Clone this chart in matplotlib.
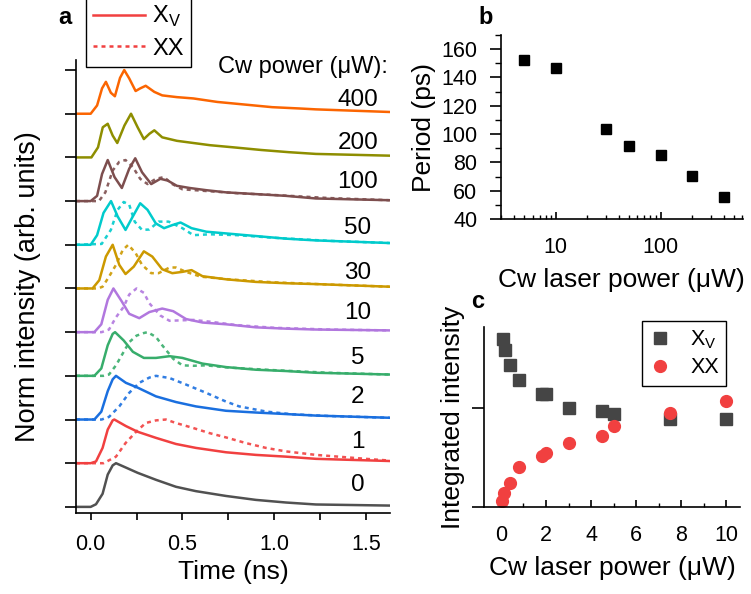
import matplotlib
matplotlib.use('Agg')
import matplotlib.pyplot as plt
from matplotlib.lines import Line2D
from matplotlib.ticker import MultipleLocator, FixedLocator, LogLocator, NullFormatter

plt.rcParams['font.family'] = ['Liberation Sans', 'DejaVu Sans']
plt.rcParams['mathtext.fontset'] = 'custom'
plt.rcParams['mathtext.rm'] = 'Liberation Sans'
plt.rcParams['axes.linewidth'] = 1.2
plt.rcParams['lines.solid_joinstyle'] = 'round'
plt.rcParams['lines.dash_joinstyle'] = 'round'

# ---- panel a: normalised transients, stacked by cw power ----
powers = [0, 1, 2, 5, 10, 30, 50, 100, 200, 400]
colors = ['#515151', '#F14040', '#1A6FDF', '#37AD6B', '#B177DE',
          '#CC9900', '#00CBCC', '#7D4E4E', '#8E8E00', '#FB6501']

xv_t = {
    0: [-0.08, 0.0, 0.029, 0.065, 0.093, 0.12, 0.138, 0.192, 0.256, 0.356, 0.465, 0.574, 0.738, 0.901, 1.065, 1.228, 1.63],
    1: [-0.08, 0.0, 0.029, 0.065, 0.093, 0.12, 0.129, 0.192, 0.256, 0.356, 0.465, 0.574, 0.738, 0.901, 1.065, 1.228, 1.63],
    2: [-0.08, 0.02, 0.058, 0.093, 0.12, 0.138, 0.192, 0.256, 0.356, 0.465, 0.574, 0.738, 0.901, 1.065, 1.228, 1.63],
    5: [-0.08, 0.02, 0.058, 0.093, 0.12, 0.133, 0.18, 0.23, 0.29, 0.356, 0.43, 0.50, 0.61, 0.738, 0.901, 1.065, 1.228, 1.63],
    10: [-0.08, 0.02, 0.058, 0.093, 0.124, 0.17, 0.21, 0.265, 0.32, 0.39, 0.45, 0.52, 0.61, 0.738, 0.901, 1.065, 1.228, 1.63],
    30: [-0.08, 0.01, 0.047, 0.083, 0.12, 0.156, 0.19, 0.235, 0.29, 0.336, 0.39, 0.445, 0.50, 0.55, 0.61, 0.738, 0.901, 1.065, 1.228, 1.63],
    50: [-0.08, 0.0, 0.035, 0.07, 0.111, 0.147, 0.19, 0.23, 0.27, 0.31, 0.355, 0.40, 0.445, 0.49, 0.55, 0.63, 0.738, 0.901, 1.065, 1.228, 1.63],
    100: [-0.08, 0.0, 0.035, 0.062, 0.093, 0.13, 0.17, 0.21, 0.243, 0.28, 0.33, 0.38, 0.42, 0.47, 0.54, 0.63, 0.738, 0.901, 1.065, 1.228, 1.63],
    200: [-0.08, 0.004, 0.04, 0.066, 0.093, 0.12, 0.145, 0.184, 0.22, 0.256, 0.29, 0.32, 0.347, 0.39, 0.47, 0.56, 0.65, 0.78, 0.93, 1.08, 1.228, 1.63],
    400: [-0.08, 0.0, 0.035, 0.062, 0.083, 0.11, 0.132, 0.16, 0.183, 0.21, 0.245, 0.27, 0.30, 0.347, 0.39, 0.47, 0.56, 0.69, 0.84, 0.99, 1.14, 1.228, 1.63],
}
xv_i = {
    0: [0, 0, 0.06, 0.30, 0.74, 0.95, 1.0, 0.90, 0.78, 0.62, 0.46, 0.36, 0.25, 0.16, 0.10, 0.055, 0.03],
    1: [0, 0, 0.04, 0.35, 0.77, 0.98, 1.0, 0.85, 0.72, 0.58, 0.44, 0.35, 0.25, 0.19, 0.15, 0.10, 0.05],
    2: [0, 0, 0.18, 0.65, 0.92, 1.0, 0.84, 0.73, 0.53, 0.40, 0.30, 0.20, 0.16, 0.125, 0.09, 0.04],
    5: [0, 0, 0.17, 0.70, 0.96, 1.0, 0.81, 0.55, 0.41, 0.41, 0.45, 0.41, 0.28, 0.20, 0.14, 0.11, 0.07, 0.03],
    10: [0, 0, 0.18, 0.74, 1.0, 0.70, 0.42, 0.32, 0.46, 0.54, 0.48, 0.30, 0.22, 0.18, 0.11, 0.08, 0.06, 0.04],
    30: [0, 0, 0.19, 0.73, 1.0, 0.54, 0.33, 0.50, 0.85, 0.73, 0.44, 0.35, 0.38, 0.42, 0.28, 0.21, 0.15, 0.12, 0.10, 0.04],
    50: [0, 0, 0.22, 0.73, 1.0, 0.65, 0.34, 0.65, 0.95, 0.80, 0.49, 0.38, 0.45, 0.51, 0.38, 0.30, 0.26, 0.20, 0.14, 0.10, 0.04],
    100: [0, 0, 0.12, 0.62, 0.94, 0.55, 0.30, 0.74, 0.98, 0.66, 0.39, 0.51, 0.47, 0.35, 0.30, 0.25, 0.20, 0.16, 0.12, 0.06, 0.02],
    200: [0, 0, 0.23, 0.69, 0.77, 0.50, 0.33, 0.73, 1.0, 0.69, 0.42, 0.54, 0.62, 0.46, 0.38, 0.33, 0.28, 0.23, 0.17, 0.12, 0.08, 0.04],
    400: [0, 0, 0.19, 0.58, 0.73, 0.48, 0.40, 0.82, 1.0, 0.81, 0.52, 0.58, 0.64, 0.50, 0.42, 0.38, 0.35, 0.27, 0.21, 0.15, 0.12, 0.10, 0.04],
}
xx_t = {
    1: [-0.08, 0.07, 0.138, 0.19, 0.25, 0.30, 0.356, 0.41, 0.465, 0.556, 0.647, 0.738, 0.847, 0.956, 1.065, 1.228, 1.32, 1.5, 1.63],
    2: [-0.08, 0.06, 0.10, 0.156, 0.21, 0.265, 0.32, 0.356, 0.43, 0.52, 0.63, 0.738, 0.81, 0.96, 1.1, 1.3, 1.63],
    5: [-0.08, 0.07, 0.10, 0.138, 0.18, 0.21, 0.25, 0.29, 0.31, 0.356, 0.39, 0.45, 0.50, 0.56, 0.63, 0.75, 1.0, 1.3, 1.63],
    10: [-0.08, 0.06, 0.10, 0.138, 0.18, 0.21, 0.25, 0.29, 0.32, 0.38, 0.43, 0.49, 0.56, 0.65, 0.8, 1.0, 1.3, 1.63],
    30: [-0.08, 0.04, 0.065, 0.10, 0.138, 0.175, 0.205, 0.245, 0.28, 0.33, 0.37, 0.43, 0.465, 0.52, 0.60, 0.75, 1.0, 1.3, 1.63],
    50: [-0.08, 0.06, 0.11, 0.147, 0.18, 0.21, 0.24, 0.28, 0.32, 0.37, 0.425, 0.50, 0.56, 0.65, 0.8, 1.0, 1.3, 1.63],
    100: [-0.08, 0.045, 0.08, 0.12, 0.156, 0.19, 0.23, 0.27, 0.31, 0.355, 0.40, 0.445, 0.50, 0.6, 0.8, 1.0, 1.3, 1.63],
}
xx_i = {
    1: [0, 0, 0.15, 0.46, 0.73, 0.92, 0.98, 1.0, 0.92, 0.81, 0.69, 0.59, 0.46, 0.35, 0.27, 0.19, 0.16, 0.10, 0.06],
    2: [0, 0, 0.06, 0.30, 0.61, 0.84, 0.96, 1.0, 0.95, 0.80, 0.61, 0.41, 0.30, 0.18, 0.12, 0.08, 0.04],
    5: [0, 0, 0.03, 0.24, 0.55, 0.77, 0.92, 0.98, 1.0, 0.89, 0.70, 0.39, 0.24, 0.23, 0.24, 0.19, 0.13, 0.07, 0.03],
    10: [0, 0, 0.06, 0.34, 0.58, 0.86, 1.0, 0.90, 0.66, 0.38, 0.26, 0.27, 0.28, 0.24, 0.16, 0.10, 0.06, 0.04],
    30: [0, 0, 0.04, 0.27, 0.54, 0.88, 1.0, 0.81, 0.54, 0.35, 0.35, 0.48, 0.48, 0.38, 0.27, 0.21, 0.14, 0.09, 0.04],
    50: [0, 0.02, 0.34, 0.80, 0.98, 0.92, 0.53, 0.34, 0.35, 0.53, 0.53, 0.38, 0.22, 0.24, 0.22, 0.16, 0.09, 0.04],
    100: [0, 0, 0.20, 0.70, 0.90, 0.94, 0.78, 0.51, 0.39, 0.51, 0.55, 0.39, 0.27, 0.24, 0.18, 0.14, 0.07, 0.02],
}

# ---- panel b: oscillation period ----
b_power = [5, 10, 30, 50, 100, 200, 400]
b_period = [152.2, 146.8, 103.5, 91.7, 85.2, 70.6, 55.5]

# ---- panel c: integrated intensity ----
c_power_xv = [0.08, 0.18, 0.4, 0.8, 1.8, 2.0, 3.0, 4.5, 5.0, 7.5, 10.0]
c_int_xv = [1.70, 1.59, 1.44, 1.29, 1.145, 1.145, 1.006, 0.97, 0.94, 0.89, 0.89]
c_power_xx = [0.05, 0.15, 0.4, 0.8, 1.8, 2.0, 3.0, 4.5, 5.0, 7.5, 10.0]
c_int_xx = [0.058, 0.14, 0.244, 0.40, 0.515, 0.55, 0.644, 0.72, 0.82, 0.95, 1.075]

W, H = 751, 594
fig = plt.figure(figsize=(W / 100, H / 100), dpi=100)


def px_axes(l, t, r, b):
    return fig.add_axes([l / W, 1 - b / H, (r - l) / W, (b - t) / H])


# panel a
axa = px_axes(76, 60, 390, 513)
for k, p in enumerate(powers):
    if p in xx_t:
        axa.plot(xx_t[p], [v + k for v in xx_i[p]], color=colors[k], lw=1.8,
                 ls=(0, (1.6, 1.6)), alpha=0.9)
    axa.plot(xv_t[p], [v + k for v in xv_i[p]], color=colors[k], lw=1.8)

label_y = [0.50, 1.49, 2.52, 3.40, 4.43, 5.35, 6.38, 7.44, 8.32, 9.31]
for p, y in zip(powers, label_y):
    axa.text(1.457, y, str(p), ha='center', va='center', fontsize=17.5)
axa.text(1.62, 10.07, 'Cw power (\u03bcW):', ha='right', va='center', fontsize=17)

axa.set_xlim(-0.08, 1.632)
axa.set_ylim(-0.14, 10.23)
for s in ['top', 'right']:
    axa.spines[s].set_visible(False)
axa.xaxis.set_major_locator(FixedLocator([0, 0.5, 1.0, 1.5]))
axa.set_xticklabels(['0.0', '0.5', '1.0', '1.5'])
axa.xaxis.set_minor_locator(MultipleLocator(0.25))
axa.set_yticks(range(11))
axa.set_yticklabels([])
axa.tick_params(axis='x', which='both', direction='out', length=5, width=1.2,
                labelsize=15.5, pad=10)
axa.tick_params(axis='y', direction='out', length=8, width=1.2)
axa.set_xlabel('Time (ns)', fontsize=19, labelpad=4)
axa.set_ylabel('Norm intensity (arb. units)', fontsize=19.5, labelpad=14)

handles = [Line2D([], [], color='#F14040', lw=1.8),
           Line2D([], [], color='#F14040', lw=1.8, ls=(0, (1.6, 1.6)))]
fig.legend(handles, ['X$_\\mathrm{V}$', 'XX'], loc='upper left',
           bbox_to_anchor=(86 / W, 1 + 3 / H), fontsize=17, frameon=True,
           fancybox=False, edgecolor='black', framealpha=1, handlelength=2.2,
           handletextpad=0.3, labelspacing=0.35, borderpad=0.3,
           borderaxespad=0).get_frame().set_linewidth(1.0)

fig.text(65 / W, 1 - 18 / H, 'a', fontsize=17, fontweight='bold',
         ha='center', va='center')

# panel b
axb = px_axes(501, 35, 742.7, 219)
axb.plot(b_power, b_period, 's', color='black', ms=7.5)
axb.set_xscale('log')
axb.set_xlim(3, 607)
axb.set_ylim(40, 170)
for s in ['top', 'right']:
    axb.spines[s].set_visible(False)
axb.xaxis.set_major_locator(FixedLocator([10, 100]))
axb.set_xticklabels(['10', '100'])
axb.xaxis.set_minor_locator(LogLocator(base=10, subs=range(2, 10)))
axb.xaxis.set_minor_formatter(NullFormatter())
axb.yaxis.set_major_locator(MultipleLocator(20))
axb.yaxis.set_minor_locator(MultipleLocator(10))
axb.tick_params(axis='x', which='major', direction='in', length=5, width=1.2,
                labelsize=15.5, pad=13)
axb.tick_params(axis='x', which='minor', direction='in', length=3, width=1.0)
axb.tick_params(axis='y', which='major', direction='out', length=8, width=1.2,
                labelsize=15.5, pad=9)
axb.tick_params(axis='y', which='minor', direction='out', length=4, width=1.0)
axb.set_xlabel('Cw laser power (\u03bcW)', fontsize=19, labelpad=7)
axb.set_ylabel('Period (ps)', fontsize=19, labelpad=4)
fig.text(486 / W, 1 - 18 / H, 'b', fontsize=17, fontweight='bold',
         ha='center', va='center')

# panel c
axc = px_axes(484, 326.7, 740, 507.3)
axc.plot(c_power_xv, c_int_xv, 's', color='#454545', ms=8, label='X$_\\mathrm{V}$')
axc.plot(c_power_xx, c_int_xx, 'o', color='#F14040', ms=8.5, label='XX')
axc.set_xlim(-0.75, 10.6)
axc.set_ylim(-0.006, 1.83)
for s in ['top', 'right']:
    axc.spines[s].set_visible(False)
axc.xaxis.set_major_locator(MultipleLocator(2))
axc.xaxis.set_minor_locator(MultipleLocator(1))
axc.set_yticks([0, 1])
axc.set_yticklabels([])
axc.tick_params(axis='x', which='major', direction='in', length=5, width=1.2,
                labelsize=15.5, pad=13)
axc.tick_params(axis='x', which='minor', direction='in', length=3, width=1.0)
axc.tick_params(axis='y', direction='out', length=9, width=1.2)
axc.set_xlabel('Cw laser power (\u03bcW)', fontsize=19, labelpad=7)
axc.set_ylabel('Integrated intensity', fontsize=19, labelpad=1)
leg = axc.legend(loc='upper left', bbox_to_anchor=((641.7 - 484) / 256, 1 + 6 / 180.6),
                 fontsize=15.5, frameon=True, fancybox=False, edgecolor='black',
                 framealpha=1, handlelength=1.0, handletextpad=0.9,
                 labelspacing=0.3, borderpad=0.35, borderaxespad=0)
leg.get_frame().set_linewidth(1.0)
fig.text(478 / W, 1 - 302 / H, 'c', fontsize=17, fontweight='bold',
         ha='center', va='center')

fig.savefig('out.png', dpi=100)
